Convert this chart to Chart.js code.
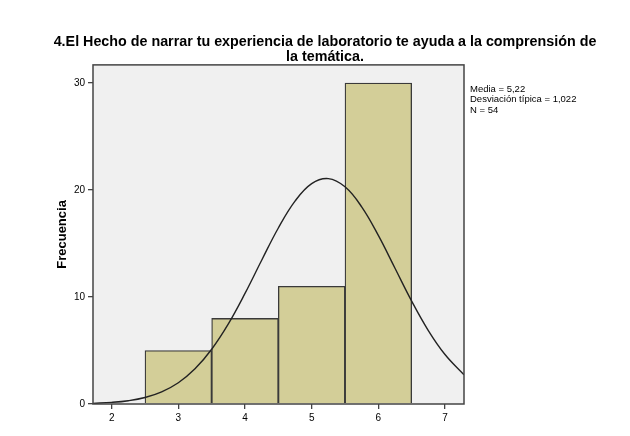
<!DOCTYPE html>
<html>
<head>
<meta charset="utf-8">
<script src="https://cdn.jsdelivr.net/npm/chart.js@4.4.1/dist/chart.umd.min.js"></script>
<style>
  html, body { margin: 0; padding: 0; background: #ffffff; }
  #wrap { width: 630px; height: 436px; }
</style>
</head>
<body>
<div id="wrap"><canvas id="histChart" width="630" height="436"></canvas></div>
<script>
// Histogram bins (centre of each bin) and counts
const binCenters = [3, 4, 5, 6];
const binCounts = [5, 8, 11, 30];

// Normal curve
const curveX = [1.72, 2.0, 2.25, 2.5, 2.75, 3.0, 3.25, 3.5, 3.75, 4.0, 4.25, 4.5, 4.75, 5.0, 5.25, 5.5, 5.75, 6.0, 6.25, 6.5, 6.75, 7.0, 7.285];
const curveY = [0.06, 0.15, 0.31, 0.61, 1.14, 1.99, 3.29, 5.12, 7.49, 10.34, 13.44, 16.45, 18.96, 20.6, 21.07, 20.3, 18.43, 15.76, 12.69, 9.62, 6.87, 4.63, 2.73];

const xTicks = [2, 3, 4, 5, 6, 7];
const yTicks = [0, 10, 20, 30];

const titleLines = ['4.El Hecho de narrar tu experiencia de laboratorio te ayuda a la comprensión de', 'la temática.'];
const statsLines = ['Media = 5,22', 'Desviación típica = 1,022', 'N = 54'];

const axisColor = '#444444';
const fontFamily = '"Liberation Sans", Arial, sans-serif';

// plot background + frame + stats box text
const framePlugin = {
    id: 'frame',
    beforeDatasetsDraw(chart) {
        const a = chart.chartArea;
        const ctx = chart.ctx;
        ctx.save();
        ctx.fillStyle = '#f0f0f0';
        ctx.fillRect(a.left, a.top, a.right - a.left, a.bottom - a.top);
        ctx.restore();
    },
    afterDraw(chart) {
        const a = chart.chartArea;
        const ctx = chart.ctx;
        ctx.save();
        ctx.strokeStyle = axisColor;
        ctx.lineWidth = 1.5;
        ctx.strokeRect(a.left, a.top, a.right - a.left, a.bottom - a.top);
        ctx.fillStyle = '#000';
        ctx.font = '9.5px ' + fontFamily;
        ctx.textBaseline = 'middle';
        statsLines.forEach((t, i) => ctx.fillText(t, 470, 89 + i * 10.5));
        ctx.restore();
    }
};

new Chart(document.getElementById('histChart'), {
    data: {
        datasets: [{
            type: 'line',
            label: 'Normal',
            data: curveX.map((x, i) => ({ x: x, y: curveY[i] })),
            borderColor: '#222222',
            borderWidth: 1.4,
            pointRadius: 0,
            tension: 0.4,
            fill: false,
            order: 0
        }, {
            type: 'bar',
            label: 'Frecuencia',
            data: binCenters.map((x, i) => ({ x: x, y: binCounts[i] })),
            backgroundColor: '#d3ce98',
            borderColor: '#3a3a3a',
            borderWidth: 1.3,
            barPercentage: 1,
            categoryPercentage: 1,
            order: 1
        }]
    },
    options: {
        responsive: false,
        animation: false,
        layout: { padding: { left: 20, right: 0, top: 0, bottom: 0 } },
        plugins: {
            legend: { display: false },
            tooltip: { enabled: false },
            title: {
                display: true,
                text: titleLines,
                color: '#000',
                font: { family: fontFamily, size: 14.3, weight: 'bold', lineHeight: 1.08 },
                padding: { top: 34, bottom: 0 }
            }
        },
        scales: {
            x: {
                type: 'linear',
                offset: false,
                min: 1.72,
                max: 7.285,
                afterBuildTicks: (scale) => { scale.ticks = xTicks.map(v => ({ value: v })); },
                afterFit: (scale) => { scale.height = 32; },
                grid: { display: true, offset: false, drawOnChartArea: false, drawTicks: true, tickLength: 5, color: axisColor, lineWidth: 1.3 },
                border: { display: false },
                ticks: { color: '#000', padding: 3, font: { family: fontFamily, size: 10 } }
            },
            y: {
                type: 'linear',
                min: 0,
                max: 31.7,
                afterBuildTicks: (scale) => { scale.ticks = yTicks.map(v => ({ value: v })); },
                afterFit: (scale) => { scale.width = 73; },
                grid: { display: true, drawOnChartArea: false, drawTicks: true, tickLength: 5, color: axisColor, lineWidth: 1.3 },
                border: { display: false },
                ticks: { color: '#000', padding: 3, font: { family: fontFamily, size: 10 } },
                title: {
                    display: true,
                    text: 'Frecuencia',
                    color: '#000',
                    font: { family: fontFamily, size: 13, weight: 'bold' },
                    padding: { top: 35, bottom: 0 }
                }
            },
            // empty right-hand scale that keeps room for the stats text
            yRight: {
                type: 'linear',
                position: 'right',
                min: 0,
                max: 31.7,
                afterFit: (scale) => { scale.width = 166; },
                grid: { display: false },
                border: { display: false },
                ticks: { display: false }
            }
        }
    },
    plugins: [framePlugin]
});
</script>
</body>
</html>
